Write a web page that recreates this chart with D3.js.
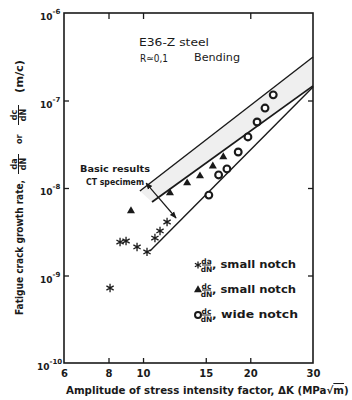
<!DOCTYPE html>
<html lang="en">
<head>
<meta charset="UTF-8">
<title>E36-Z steel, fatigue crack growth</title>
<script src="https://d3js.org/d3.v7.min.js"></script>
<style>
  body { margin: 0; background: #fff; }
  svg { display: block; font-family: "DejaVu Sans", sans-serif; font-weight: bold; }
  text { fill: #1a1a1a; }
</style>
</head>
<body>
<svg width="352" height="400"></svg>
<script>
// values
const kTickLabels = [6, 8, 10, 15, 20, 30];
const kTicksBottom = [8, 10, 15, 20];
const kTicksTop = [8, 10, 20];
const rateExps = [-10, -9, -8, -7, -6];
const rateTicksSide = [1e-9, 1e-8, 1e-7];

// da/dN, small notch
const starK = [8.08, 8.62, 8.96, 9.62, 10.26, 10.8, 11.16, 11.68];
const starRate = [7.2e-10, 2.41e-9, 2.48e-9, 2.12e-9, 1.86e-9, 2.68e-9, 3.23e-9, 4.09e-9];
// dc/dN, small notch
const triK = [9.25, 11.9, 13.3, 14.45, 15.7, 16.8];
const triRate = [5.46e-9, 8.77e-9, 1.14e-8, 1.37e-8, 1.78e-8, 2.26e-8];
// dc/dN, wide notch
const circK = [15.3, 16.3, 17.2, 18.5, 19.7, 20.9, 22.0, 23.2];
const circRate = [8.3e-9, 1.41e-8, 1.65e-8, 2.58e-8, 3.83e-8, 5.68e-8, 8.2e-8, 1.16e-7];

// scatter band of CT specimens and the small crack line
const bandUpperK = [9.8, 30];
const bandUpperRate = [9.24e-9, 3.14e-7];
const bandLowerK = [10.6, 30];
const bandLowerRate = [6.92e-9, 1.47e-7];
const smallK = [10.46, 30];
const smallRate = [1.9e-9, 1.43e-7];
// arrow from "Basic results" down to the small crack line
const arrowK = [10.2, 12.38];
const arrowRate = [1.14e-8, 4.54e-9];

const width = 352, height = 400;
const mLeft = 64, mRight = 313, mTop = 13, mBottom = 363;
const ink = '#1a1a1a';

const x = d3.scaleLog().domain([6, 30]).range([mLeft, mRight]);
const y = d3.scaleLog().domain([1e-10, 1e-6]).range([mBottom, mTop]);

const svg = d3.select('svg');
svg.append('rect').attr('width', width).attr('height', height).attr('fill', '#fff');

const defs = svg.append('defs');
defs.append('marker')
    .attr('id', 'head')
    .attr('viewBox', '0 0 10 10')
    .attr('refX', 9).attr('refY', 5)
    .attr('markerWidth', 7).attr('markerHeight', 7)
    .attr('markerUnits', 'userSpaceOnUse')
    .attr('orient', 'auto-start-reverse')
    .append('path').attr('d', 'M0,1L10,5L0,9Z').attr('fill', ink);

const line = d3.line().x(d => x(d[0])).y(d => y(d[1]));
const pairs = (ks, rs) => ks.map((k, i) => [k, rs[i]]);

// band
const bandPts = pairs(bandUpperK, bandUpperRate).concat(pairs(bandLowerK, bandLowerRate).reverse());
svg.append('path').attr('d', line(bandPts) + 'Z').attr('fill', '#efefef');

[[bandUpperK, bandUpperRate, 1.4], [bandLowerK, bandLowerRate, 1.8], [smallK, smallRate, 1.4]].forEach(([ks, rs, w]) => {
    svg.append('path')
        .attr('d', line(pairs(ks, rs)))
        .attr('fill', 'none').attr('stroke', ink).attr('stroke-width', w);
});

svg.append('path')
    .attr('d', line(pairs(arrowK, arrowRate)))
    .attr('stroke', ink).attr('stroke-width', 1.2)
    .attr('marker-start', 'url(#head)').attr('marker-end', 'url(#head)');

// frame
svg.append('rect')
    .attr('x', mLeft).attr('y', mTop)
    .attr('width', mRight - mLeft).attr('height', mBottom - mTop)
    .attr('fill', 'none').attr('stroke', ink).attr('stroke-width', 1.6);

// ticks, pointing inwards
function ticks(axis, transform) {
    const g = svg.append('g').attr('transform', transform).call(axis);
    g.select('.domain').remove();
    g.selectAll('line').attr('stroke', ink).attr('stroke-width', 1.3);
    return g;
}
ticks(d3.axisBottom(x).tickValues(kTicksBottom).tickSizeInner(-5).tickSizeOuter(0).tickFormat(''), `translate(0,${mBottom})`);
ticks(d3.axisTop(x).tickValues(kTicksTop).tickSizeInner(-6).tickSizeOuter(0).tickFormat(''), `translate(0,${mTop})`);
ticks(d3.axisLeft(y).tickValues(rateTicksSide).tickSizeInner(-5).tickSizeOuter(0).tickFormat(''), `translate(${mLeft},0)`);
ticks(d3.axisRight(y).tickValues(rateTicksSide).tickSizeInner(-5).tickSizeOuter(0).tickFormat(''), `translate(${mRight},0)`);

// x tick labels
const xl = svg.append('g').attr('transform', `translate(0,${mBottom})`)
    .call(d3.axisBottom(x).tickValues(kTickLabels).tickSize(0).tickPadding(7).tickFormat(d3.format('d')));
xl.select('.domain').remove();
xl.selectAll('text').attr('font-size', 10).attr('font-family', 'DejaVu Sans').attr('fill', ink);

// y tick labels, 10 with exponent
rateExps.forEach(e => {
    const t = svg.append('text')
        .attr('x', e === -10 ? 37 : 40)
        .attr('y', y(Math.pow(10, e)) + 7)
        .attr('font-size', 9);
    t.append('tspan').text('10');
    t.append('tspan').attr('dy', -6).attr('font-size', 7).text('-' + Math.abs(e));
});

// markers
const starPath = r => {
    let p = '';
    [90, 30, 150].forEach(a => {
        const dx = r * Math.cos(a * Math.PI / 180), dy = r * Math.sin(a * Math.PI / 180);
        p += `M${-dx},${-dy}L${dx},${dy}`;
    });
    return p;
};
const tri = d3.symbol(d3.symbolTriangle, 28)();

svg.append('g').selectAll('path').data(pairs(starK, starRate)).join('path')
    .attr('transform', d => `translate(${x(d[0])},${y(d[1])})`)
    .attr('d', starPath(4.2)).attr('stroke', ink).attr('stroke-width', 1.3);
svg.append('g').selectAll('path').data(pairs(triK, triRate)).join('path')
    .attr('transform', d => `translate(${x(d[0])},${y(d[1])})`)
    .attr('d', tri).attr('fill', ink);
svg.append('g').selectAll('circle').data(pairs(circK, circRate)).join('circle')
    .attr('cx', d => x(d[0])).attr('cy', d => y(d[1])).attr('r', 3.4)
    .attr('fill', '#fff').attr('stroke', ink).attr('stroke-width', 2.1);

// fraction helper: horizontal, line at (x0..x0+w, yl)
function fraction(g, x0, yl, w, num, den, size) {
    g.append('line').attr('x1', x0).attr('x2', x0 + w).attr('y1', yl).attr('y2', yl)
        .attr('stroke', ink).attr('stroke-width', 1);
    g.append('text').attr('x', x0 + w / 2).attr('y', yl - 1.3).attr('text-anchor', 'middle')
        .attr('font-size', size).text(num);
    g.append('text').attr('x', x0 + w / 2).attr('y', yl + size * 0.8 + 0.7).attr('text-anchor', 'middle')
        .attr('font-size', size).text(den);
}

// texts inside the plot
svg.append('text').attr('x', 139).attr('y', 46).attr('font-size', 11).attr('font-weight', 'normal')
    .attr('textLength', 70).attr('lengthAdjust', 'spacingAndGlyphs').text('E36-Z steel');
svg.append('text').attr('x', 140).attr('y', 62).attr('font-size', 10).attr('font-weight', 'normal')
    .attr('textLength', 28).attr('lengthAdjust', 'spacingAndGlyphs').text('R\u22430,1');
svg.append('text').attr('x', 194).attr('y', 61).attr('font-size', 10.5).attr('font-weight', 'normal')
    .attr('textLength', 46).attr('lengthAdjust', 'spacingAndGlyphs').text('Bending');
svg.append('text').attr('x', 80).attr('y', 172).attr('font-size', 9.5)
    .attr('textLength', 70).attr('lengthAdjust', 'spacingAndGlyphs').text('Basic results');
svg.append('text').attr('x', 86).attr('y', 185).attr('font-size', 8)
    .attr('textLength', 58).attr('lengthAdjust', 'spacingAndGlyphs').text('CT specimem');

// legend
const legend = svg.append('g');
const rows = [
    { yy: 265, sym: 'star', num: 'da', label: ', small notch', len: 85 },
    { yy: 290, sym: 'tri', num: 'dc', label: ', small notch', len: 85 },
    { yy: 315, sym: 'circ', num: 'dc', label: ', wide notch', len: 87 }
];
rows.forEach(r => {
    if (r.sym === 'star') legend.append('path').attr('transform', `translate(198,${r.yy})`)
        .attr('d', starPath(3.6)).attr('stroke', ink).attr('stroke-width', 1.3);
    if (r.sym === 'tri') legend.append('path').attr('transform', `translate(198,${r.yy})`)
        .attr('d', tri).attr('fill', ink);
    if (r.sym === 'circ') legend.append('circle').attr('cx', 198).attr('cy', r.yy).attr('r', 3)
        .attr('fill', '#fff').attr('stroke', ink).attr('stroke-width', 2);
    fraction(legend, 202, r.yy, 9, r.num, 'dN', 7.5);
    legend.append('text').attr('x', 212).attr('y', r.yy + 3).attr('font-size', 10)
        .attr('textLength', r.len - 1).attr('lengthAdjust', 'spacingAndGlyphs').text(r.label);
});

// y title, rotated, with fractions
const yt = svg.append('g').attr('transform', 'translate(23,315) rotate(-90)');
yt.append('text').attr('x', 0).attr('y', 0).attr('font-size', 10)
    .attr('textLength', 135).attr('lengthAdjust', 'spacingAndGlyphs').text('Fatigue crack growth rate,');
fraction(yt, 141, -4.5, 20, 'da', 'dN', 8);
yt.append('text').attr('x', 171).attr('y', -1).attr('font-size', 8).text('or');
fraction(yt, 190, -4.5, 20, 'dc', 'dN', 8);
yt.append('text').attr('x', 222).attr('y', 0).attr('font-size', 10)
    .attr('textLength', 33).attr('lengthAdjust', 'spacingAndGlyphs').text('(m/c)');

// x title: one text, font size fitted to the width it has in the figure
const xt = svg.append('text').attr('x', 66).attr('y', 394).attr('font-size', 11);
xt.append('tspan').text('Amplitude of stress intensity factor, \u0394K (MPa\u221A');
xt.append('tspan').style('text-decoration', 'overline').text('m');
xt.append('tspan').text(')');
const natural = xt.node().getComputedTextLength();
xt.attr('font-size', 11 * 283 / natural);
</script>
</body>
</html>
